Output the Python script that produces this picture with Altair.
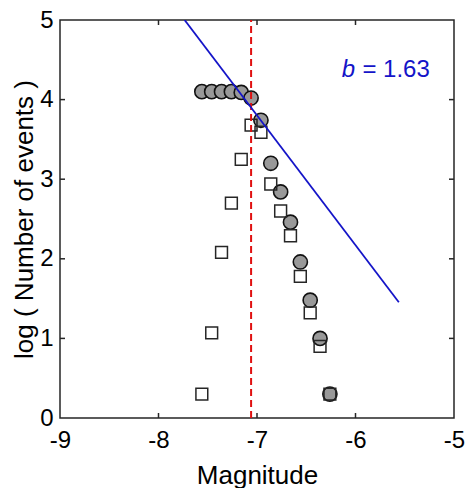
import altair as alt
import pandas as pd

# ---- data ----
mags = [-7.56, -7.46, -7.36, -7.26, -7.16, -7.06, -6.96, -6.86, -6.76, -6.66, -6.56, -6.46, -6.36, -6.26]
cum_log = [4.10, 4.10, 4.10, 4.10, 4.09, 4.02, 3.74, 3.20, 2.84, 2.46, 1.96, 1.48, 1.00, 0.30]
inc_log = [0.30, 1.07, 2.08, 2.70, 3.25, 3.68, 3.59, 2.94, 2.60, 2.29, 1.78, 1.32, 0.90, 0.30]
mc_value = [-7.06]
fit_mag = [-7.735, -5.56]
fit_log = [5.0, 1.455]
x_ticks = [-9, -8, -7, -6, -5]
y_ticks = [0, 1, 2, 3, 4, 5]
b_label_pos = [-6.14, 4.29]
eq_label_pos = [-5.93, 4.29]
b_text = "b"
eq_text = "= 1.63"

W, H = 394, 398
FONT = "Liberation Sans"
BLUE = "#1414c8"
FRAME = "#262626"

pts = pd.DataFrame({"mag": mags, "cum": cum_log, "inc": inc_log})
fit = pd.DataFrame({"mag": fit_mag, "val": fit_log})
mc = pd.DataFrame({"mag": mc_value * 2, "val": [0, 5]})
xt = pd.DataFrame({"t": x_ticks[1:-1]})
yt = pd.DataFrame({"t": y_ticks[1:-1]})
lab = pd.DataFrame({"x": [b_label_pos[0], eq_label_pos[0]],
                    "y": [b_label_pos[1], eq_label_pos[1]],
                    "txt": [b_text, eq_text]})

xscale = alt.Scale(domain=[-9, -5], nice=False, zero=False)
yscale = alt.Scale(domain=[0, 5], nice=False, zero=False)

xaxis = alt.Axis(values=x_ticks, labelExpr="toString(datum.value)", title="Magnitude",
                 labelFontSize=24, titleFontSize=26,
                 labelFont=FONT, titleFont=FONT, labelColor="#000", titleColor="#000",
                 ticks=False, domain=False, grid=False, labelPadding=10, titlePadding=10,
                 titleFontWeight="normal", labelFlush=False)
yaxis = alt.Axis(values=y_ticks, labelExpr="toString(datum.value)",
                 title="log ( Number of events )", labelFontSize=24,
                 titleFontSize=26, labelFont=FONT, titleFont=FONT, labelColor="#000",
                 titleColor="#000", ticks=False, domain=False, grid=False, labelPadding=7,
                 titlePadding=2, titleFontWeight="normal", labelFlush=False)

base_x = alt.X("mag:Q", scale=xscale, axis=xaxis)

circles = alt.Chart(pts).mark_point(shape="circle", filled=True, size=200, fill="#999999",
                                    stroke="#111111", strokeWidth=1.6, opacity=1).encode(
    x=base_x, y=alt.Y("cum:Q", scale=yscale, axis=yaxis))

squares = alt.Chart(pts).mark_point(shape="square", size=140, filled=False,
                                    stroke="#262626", strokeWidth=1.5, opacity=1).encode(
    x=alt.X("mag:Q", scale=xscale), y=alt.Y("inc:Q", scale=yscale))

fit_line = alt.Chart(fit).mark_line(color=BLUE, strokeWidth=1.8, clip=True).encode(
    x=alt.X("mag:Q", scale=xscale), y=alt.Y("val:Q", scale=yscale))

mc_line = alt.Chart(mc).mark_line(color="#e01010", strokeWidth=2, strokeDash=[7, 4]).encode(
    x=alt.X("mag:Q", scale=xscale), y=alt.Y("val:Q", scale=yscale))

b_lbl = alt.Chart(lab.iloc[[0]]).mark_text(font=FONT, fontSize=24, fontStyle="italic",
                                           color=BLUE, align="left", baseline="alphabetic").encode(
    x=alt.X("x:Q", scale=xscale), y=alt.Y("y:Q", scale=yscale), text="txt:N")
eq_lbl = alt.Chart(lab.iloc[[1]]).mark_text(font=FONT, fontSize=24, color=BLUE,
                                            align="left", baseline="alphabetic").encode(
    x=alt.X("x:Q", scale=xscale), y=alt.Y("y:Q", scale=yscale), text="txt:N")

TL = 5
xt_bot = alt.Chart(xt).mark_rule(color=FRAME, strokeWidth=1.5).encode(
    x=alt.X("t:Q", scale=xscale), y=alt.value(H), y2=alt.value(H - TL))
xt_top = alt.Chart(xt).mark_rule(color=FRAME, strokeWidth=1.5).encode(
    x=alt.X("t:Q", scale=xscale), y=alt.value(0), y2=alt.value(TL))
yt_left = alt.Chart(yt).mark_rule(color=FRAME, strokeWidth=1.5).encode(
    y=alt.Y("t:Q", scale=yscale), x=alt.value(0), x2=alt.value(TL))
yt_right = alt.Chart(yt).mark_rule(color=FRAME, strokeWidth=1.5).encode(
    y=alt.Y("t:Q", scale=yscale), x=alt.value(W), x2=alt.value(W - TL))

chart = alt.layer(circles, squares, mc_line, fit_line, b_lbl, eq_lbl,
                  xt_bot, xt_top, yt_left, yt_right).properties(
    width=W, height=H,
    autosize=alt.AutoSizeParams(type="none"),
    padding={"left": 60, "top": 20, "right": 13, "bottom": 70},
    background="white",
).configure_view(stroke=FRAME, strokeWidth=1.5)

chart.save("out.html", embed_options={"renderer": "svg", "actions": False})
